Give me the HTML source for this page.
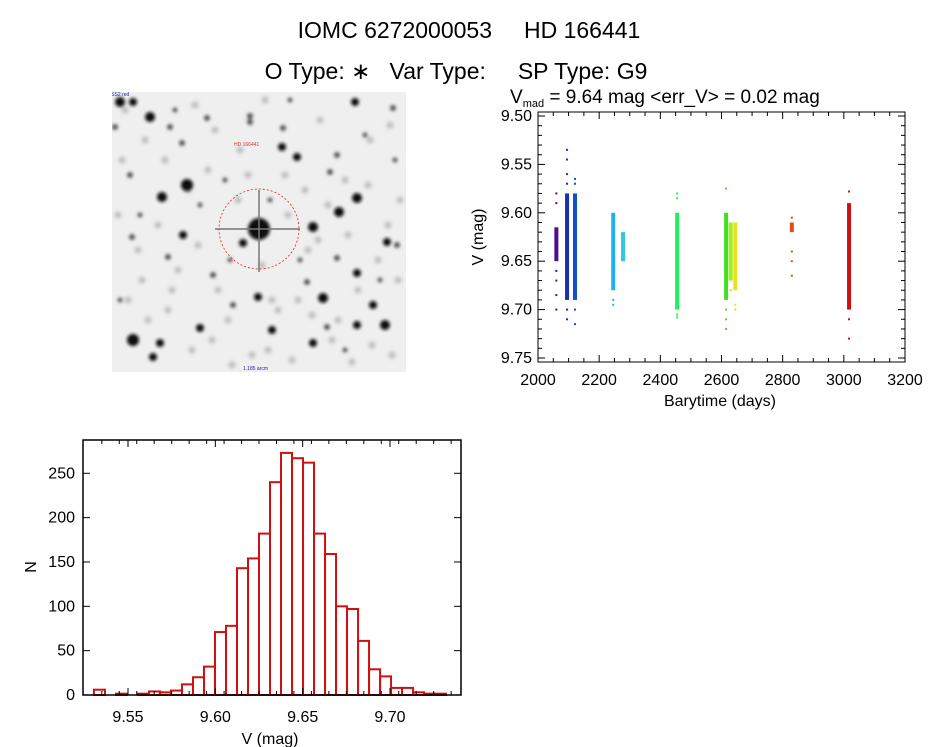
<!DOCTYPE html>
<html><head><meta charset="utf-8"><style>
body{margin:0;background:#fff;width:944px;height:747px;overflow:hidden}
svg{display:block;font-family:"Liberation Sans",sans-serif}
</style></head><body>
<svg id="svg" width="944" height="747" viewBox="0 0 944 747" xmlns="http://www.w3.org/2000/svg">
<defs><filter id="bl" x="-50%" y="-50%" width="200%" height="200%"><feGaussianBlur stdDeviation="1.6"/></filter>
<filter id="bl2" x="-50%" y="-50%" width="200%" height="200%"><feGaussianBlur stdDeviation="2.2"/></filter>
<clipPath id="imgclip"><rect x="112" y="92" width="294" height="280"/></clipPath></defs>
<text x="469" y="38" font-size="23" text-anchor="middle" xml:space="preserve">IOMC 6272000053     HD 166441</text>
<text x="456" y="79" font-size="23" text-anchor="middle" xml:space="preserve">O Type: ∗   Var Type:     SP Type: G9</text>
<g id="img" clip-path="url(#imgclip)">
<rect x="112" y="92" width="294" height="280" fill="#efefef"/>
<g id="faint" filter="url(#bl2)"></g>
<g id="stars" filter="url(#bl)"></g>
<line x1="259" y1="190" x2="259" y2="272" stroke="#777" stroke-width="1.5"/>
<line x1="215" y1="229" x2="300" y2="229" stroke="#777" stroke-width="1.5"/>
<circle cx="259" cy="229" r="40" fill="none" stroke="#d22" stroke-width="0.8" stroke-dasharray="2,2"/>
<text x="234" y="146" font-size="5" fill="#c33">HD 166441</text>
<text x="104" y="96" font-size="5" fill="#22a">POSS2 red</text>
<text x="243" y="370" font-size="5" fill="#22a">1.185 arcm</text>
</g>
<g id="lc"></g>
<g id="hist"></g>
</svg>
<script>
const NS='http://www.w3.org/2000/svg';
function mk(p,tag,at,txt){const e=document.createElementNS(NS,tag);for(const k in at)e.setAttribute(k,at[k]);if(txt!==undefined)e.textContent=txt;p.appendChild(e);return e;}
// star field
const starX=[150,187,162,130,357,339,313,297,282,330,243,258,323,357,373,385,133,160,153,200,272,313,355,120,133,115,170,182,207,250,183,132,387,397,393,337,233,307,337,168,213,357,327,283,259,250,140,225,290,380,395,120,175,345,270,200,230,300,365];
const starY=[117,185,197,175,198,212,227,157,147,172,243,297,298,273,305,325,340,343,357,328,330,343,102,102,102,127,127,143,118,122,235,237,242,245,108,155,305,282,258,257,275,325,327,128,229,116,215,180,100,280,160,300,110,350,200,205,260,260,135];
const starR=[5,6,5,3,5,5,5,4,4,3,4,4,5,4,4,5,6,4,4,4,4,4,4,5,4,3,3,3,3,3,4,3,4,3,3,3,3,3,3,3,3,4,3,3,11,3,2.5,2.5,2.5,2.5,2.5,2.5,2.5,2.5,2.5,2.5,2.5,2.5,2.5];
const faintX=[125,145,165,195,215,240,265,285,305,320,345,370,390,400,118,138,158,178,198,218,238,262,278,298,318,338,358,378,398,128,148,172,192,212,232,252,272,292,312,332,352,372,392,122,142,168,188,208,228,248,268,288,308,328,348,368,388];
const faintY=[110,140,160,105,130,150,100,175,190,120,180,140,125,200,215,250,225,270,245,290,200,265,310,300,240,320,290,260,280,300,320,290,350,340,365,355,300,360,315,340,362,345,355,160,280,310,190,170,320,175,350,215,250,205,235,185,225];
const sg=document.getElementById('stars'),fg=document.getElementById('faint');
for(let i=0;i<faintX.length;i++){const c=mk(fg,'circle',{cx:faintX[i],cy:faintY[i],r:3,fill:'#aaa'});

}
for(let i=0;i<starX.length;i++){const c=mk(sg,'circle',{cx:starX[i],cy:starY[i],r:starR[i],fill:starR[i]>3?'#111':'#555'});

}
</script>
<script>
// light curve data
const lcTimes=[2060,2095,2121,2246,2278,2455,2615,2630,2645,2830,3017];
const lcColors=['#4b0f8f','#1a2fb0','#1050d0','#20b0f0','#30c8e0','#20f060','#40e020','#a0f010','#e8e020','#e05010','#d01010'];
const lcDenseLo=[9.615,9.58,9.58,9.60,9.62,9.60,9.60,9.61,9.61,9.61,9.59];
const lcDenseHi=[9.65,9.69,9.69,9.68,9.65,9.70,9.69,9.67,9.68,9.62,9.70];
const lcOutliers=[[9.58,9.59,9.66,9.67,9.685,9.70],[9.535,9.545,9.56,9.57,9.70,9.71],[9.565,9.57,9.70,9.715],[9.69,9.695],[9.63,9.64],[9.58,9.585,9.705,9.708],[9.575,9.70,9.71,9.72],[9.68],[9.70,9.695],[9.605,9.64,9.65,9.665],[9.578,9.71,9.73]];
const lcXTicks=[2000,2200,2400,2600,2800,3000,3200];
const lcYTicks=[9.50,9.55,9.60,9.65,9.70,9.75];
(function(){
const g=document.getElementById('lc');
const L=538,R=905,T=112,B=362;
const X=t=>L+(t-2000)*(R-L)/1200;
const Y=v=>116+(v-9.5)*(358-116)/0.25;
for(let i=0;i<lcTimes.length;i++){
 const x=X(lcTimes[i]);
 const r=mk(g,'rect',{x:x-2,y:Y(lcDenseLo[i]),width:4,height:Y(lcDenseHi[i])-Y(lcDenseLo[i]),fill:lcColors[i]});
 
 
 for(const v of lcOutliers[i]){const p=mk(g,'rect',{x:x-1,y:Y(v)-1,width:2,height:2,fill:lcColors[i]});
 
 }
}
const f=mk(g,'rect',{x:L,y:T,width:R-L,height:B-T,fill:'none',stroke:'#000','stroke-width':1});

lcXTicks.forEach((t,i)=>{const x=X(t);mk(g,'line',{x1:x,y1:B,x2:x,y2:B-7,stroke:'#000'});mk(g,'line',{x1:x,y1:T,x2:x,y2:T+7,stroke:'#000'});
 const tl=mk(g,'text',{x:x,y:B+23,'font-size':16,'text-anchor':'middle'},String(t));
 
 if(i<lcXTicks.length-1)for(let k=1;k<4;k++){const xm=X(t+50*k);mk(g,'line',{x1:xm,y1:B,x2:xm,y2:B-4,stroke:'#000'});mk(g,'line',{x1:xm,y1:T,x2:xm,y2:T+4,stroke:'#000'});}});
lcYTicks.forEach((v,i)=>{const y=Y(v);mk(g,'line',{x1:L,y1:y,x2:L+7,y2:y,stroke:'#000'});mk(g,'line',{x1:R,y1:y,x2:R-7,y2:y,stroke:'#000'});
 const tl=mk(g,'text',{x:L-6,y:y+5,'font-size':16,'text-anchor':'end'},v.toFixed(2));
 
 if(i<lcYTicks.length-1)for(let k=1;k<5;k++){const ym=Y(v+0.01*k);mk(g,'line',{x1:L,y1:ym,x2:L+4,y2:ym,stroke:'#000'});mk(g,'line',{x1:R,y1:ym,x2:R-4,y2:ym,stroke:'#000'});}});
let t=mk(g,'text',{x:720,y:406,'font-size':16,'text-anchor':'middle'},'Barytime (days)');
t=mk(g,'text',{x:0,y:0,'font-size':16,'text-anchor':'middle',transform:'translate(483,237) rotate(-90)'},'V (mag)');
t=mk(g,'text',{x:510,y:103,'font-size':19},'');
t.innerHTML='V<tspan font-size="11" dy="4">mad</tspan><tspan dy="-4" xml:space="preserve"> = 9.64 mag &lt;err_V&gt; = 0.02 mag</tspan>';
})();
</script>
<script>
// histogram data
const histStart=9.5305, histWidth=0.0063;
const histCounts=[6,0,1.5,0,1.5,4,3,5,12,20,32,71,78,143,154,182,240,273,267,262,182,159,100,97,61,29,21,8,8,3,1.5,1.5];
const histXTicks=[9.55,9.60,9.65,9.70];
const histYTicks=[0,50,100,150,200,250];
(function(){
const g=document.getElementById('hist');
const L=83,R=461,T=440,B=695;
const X=v=>128+(v-9.55)*(390-128)/0.15;
const Y=n=>B-n*(B-473.3)/250;
histCounts.forEach((c,i)=>{const x0=X(histStart+i*histWidth),x1=X(histStart+(i+1)*histWidth);
 const r=mk(g,'rect',{x:x0,y:Y(c),width:x1-x0,height:B-Y(c),fill:'none',stroke:'#d01010','stroke-width':2});
 });
const f=mk(g,'rect',{x:L,y:T,width:R-L,height:B-T,fill:'none',stroke:'#000','stroke-width':1.5});

histXTicks.forEach((v,i)=>{const x=X(v);mk(g,'line',{x1:x,y1:B,x2:x,y2:B-7,stroke:'#000'});mk(g,'line',{x1:x,y1:T,x2:x,y2:T+7,stroke:'#000'});
 const tl=mk(g,'text',{x:x,y:B+27,'font-size':16,'text-anchor':'middle'},v.toFixed(2));
 });
for(let v=9.535;v<9.735;v+=0.01){const x=X(v);if(x>L&&x<R){mk(g,'line',{x1:x,y1:B,x2:x,y2:B-4,stroke:'#000'});mk(g,'line',{x1:x,y1:T,x2:x,y2:T+4,stroke:'#000'});}}
histYTicks.forEach(n=>{const y=Y(n);mk(g,'line',{x1:L,y1:y,x2:L+7,y2:y,stroke:'#000'});mk(g,'line',{x1:R,y1:y,x2:R-7,y2:y,stroke:'#000'});
 const tl=mk(g,'text',{x:L-8,y:y+5,'font-size':16,'text-anchor':'end'},String(n));
 });
let t=mk(g,'text',{x:270,y:744,'font-size':16,'text-anchor':'middle'},'V (mag)');
t=mk(g,'text',{x:0,y:0,'font-size':16,'text-anchor':'middle',transform:'translate(36,567) rotate(-90)'},'N');
})();
</script>
</body></html>
